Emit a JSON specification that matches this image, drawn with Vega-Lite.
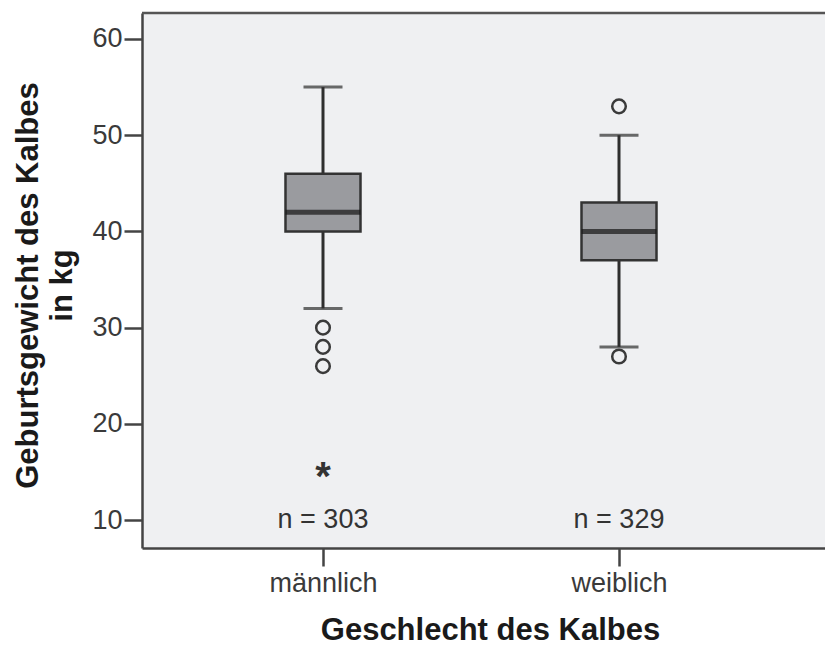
{
  "$schema": "https://vega.github.io/schema/vega-lite/v6.json",
  "width": 683,
  "height": 535,
  "autosize": {"type": "none"},
  "padding": {"left": 142, "top": 13, "right": 0, "bottom": 100},
  "background": "white",
  "config": {
    "view": {"stroke": null, "fill": "#eff0f2"},
    "font": "Liberation Sans",
    "axis": {
      "grid": false,
      "domainColor": "#444444",
      "domainWidth": 2.5,
      "tickColor": "#444444",
      "tickWidth": 2.5,
      "tickSize": 18,
      "labelFont": "Liberation Sans",
      "labelFontSize": 27,
      "labelColor": "#3a3a3a",
      "titleFont": "Liberation Sans",
      "titleFontSize": 31,
      "titleFontWeight": "bold",
      "titleColor": "#1a1a1a"
    }
  },
  "datasets": {
    "boxes": [
      {"sex": "männlich", "lo": 32, "q1": 40, "med": 42, "q3": 46, "hi": 55, "n": 10, "label": "n = 303"},
      {"sex": "weiblich", "lo": 28, "q1": 37, "med": 40, "q3": 43, "hi": 50, "n": 10, "label": "n = 329"}
    ],
    "outliers": [
      {"sex": "männlich", "value": 30},
      {"sex": "männlich", "value": 28},
      {"sex": "männlich", "value": 26},
      {"sex": "weiblich", "value": 53},
      {"sex": "weiblich", "value": 27}
    ],
    "extremes": [
      {"sex": "männlich", "value": 15}
    ]
  },
  "encoding": {
    "x": {
      "field": "sex",
      "type": "nominal",
      "sort": ["männlich", "weiblich"],
      "scale": {"type": "point", "padding": 0.6537, "align": 0.4677},
      "axis": {
        "title": "Geschlecht des Kalbes",
        "labelAngle": 0,
        "labelPadding": 4,
        "titleX": 348,
        "titleY": 91,
        "titleBaseline": "alphabetic",
        "titleAlign": "center"
      }
    }
  },
  "layer": [
    {
      "data": {"name": "boxes"},
      "mark": {"type": "rule", "color": "#2e2e2e", "strokeWidth": 3},
      "encoding": {
        "y": {
          "field": "lo",
          "type": "quantitative",
          "title": ["Geburtsgewicht des Kalbes", "in kg"],
          "scale": {"domain": [7.1, 62.7], "nice": false, "zero": false},
          "axis": {
            "values": [10, 20, 30, 40, 50, 60],
            "labelPadding": 2,
            "titleAngle": -90,
            "titleX": -105,
            "titleY": 272,
            "titleAlign": "center",
            "titleBaseline": "alphabetic",
            "titleLineHeight": 34
          }
        },
        "y2": {"field": "hi"}
      }
    },
    {
      "data": {"name": "boxes"},
      "mark": {"type": "tick", "color": "#2e2e2e", "size": 39, "thickness": 3},
      "encoding": {"y": {"field": "lo", "type": "quantitative", "title": ["Geburtsgewicht des Kalbes", "in kg"]}}
    },
    {
      "data": {"name": "boxes"},
      "mark": {"type": "tick", "color": "#2e2e2e", "size": 39, "thickness": 3},
      "encoding": {"y": {"field": "hi", "type": "quantitative", "title": ["Geburtsgewicht des Kalbes", "in kg"]}}
    },
    {
      "data": {"name": "boxes"},
      "mark": {"type": "bar", "size": 75, "fill": "#9a9b9f", "stroke": "#333333", "strokeWidth": 2.5},
      "encoding": {
        "y": {"field": "q1", "type": "quantitative", "title": ["Geburtsgewicht des Kalbes", "in kg"]},
        "y2": {"field": "q3"}
      }
    },
    {
      "data": {"name": "boxes"},
      "mark": {"type": "tick", "color": "#161616", "size": 75, "thickness": 5},
      "encoding": {"y": {"field": "med", "type": "quantitative", "title": ["Geburtsgewicht des Kalbes", "in kg"]}}
    },
    {
      "data": {"name": "outliers"},
      "mark": {"type": "point", "shape": "circle", "size": 185, "filled": false, "stroke": "#3a3a3a", "strokeWidth": 2.5, "opacity": 1},
      "encoding": {"y": {"field": "value", "type": "quantitative", "title": ["Geburtsgewicht des Kalbes", "in kg"]}}
    },
    {
      "data": {"name": "extremes"},
      "mark": {"type": "text", "text": "*", "font": "Liberation Sans", "fontSize": 40, "fontWeight": "bold", "color": "#333333", "baseline": "alphabetic", "dy": 18},
      "encoding": {"y": {"field": "value", "type": "quantitative", "title": ["Geburtsgewicht des Kalbes", "in kg"]}}
    },
    {
      "data": {"name": "boxes"},
      "mark": {"type": "text", "font": "Liberation Sans", "fontSize": 27, "color": "#333333", "baseline": "middle"},
      "encoding": {
        "y": {"field": "n", "type": "quantitative", "title": ["Geburtsgewicht des Kalbes", "in kg"]},
        "text": {"field": "label"}
      }
    },
    {
      "data": {"values": [{"top": 62.7}]},
      "mark": {"type": "rule", "color": "#555555", "strokeWidth": 2.5},
      "encoding": {
        "y": {"field": "top", "type": "quantitative", "title": ["Geburtsgewicht des Kalbes", "in kg"]},
        "x": {"value": 0},
        "x2": {"value": 683}
      }
    }
  ]
}
